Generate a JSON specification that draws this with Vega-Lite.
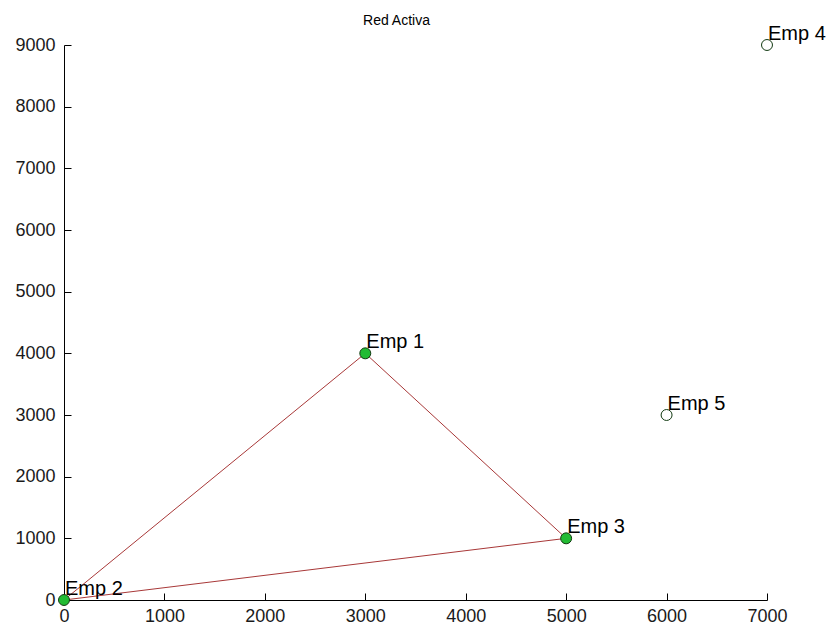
{
  "$schema": "https://vega.github.io/schema/vega-lite/v6.json",
  "width": 703,
  "height": 555,
  "autosize": {"type": "none"},
  "padding": {"left": 64, "top": 45, "right": 65, "bottom": 32},
  "background": "white",
  "title": {"text": "Red Activa", "fontSize": 14, "font": "Liberation Sans, Arial, sans-serif", "fontWeight": "normal", "color": "#000000", "dx": -19, "offset": 4, "dy": 8},
  "config": {"view": {"stroke": null}},
  "datasets": {
    "edges": [
      {"edge": "2-1", "x": 0, "y": 0},
      {"edge": "2-1", "x": 3000, "y": 4000},
      {"edge": "1-3", "x": 3000, "y": 4000},
      {"edge": "1-3", "x": 5000, "y": 1000},
      {"edge": "2-3", "x": 0, "y": 0},
      {"edge": "2-3", "x": 5000, "y": 1000}
    ],
    "nodes": [
      {"name": "Emp 1", "x": 3000, "y": 4000, "active": "yes"},
      {"name": "Emp 2", "x": 0, "y": 0, "active": "yes"},
      {"name": "Emp 3", "x": 5000, "y": 1000, "active": "yes"},
      {"name": "Emp 4", "x": 7000, "y": 9000, "active": "no"},
      {"name": "Emp 5", "x": 6000, "y": 3000, "active": "no"}
    ]
  },
  "layer": [
    {
      "data": {"name": "edges"},
      "mark": {"type": "line", "color": "#a83838", "strokeWidth": 1},
      "encoding": {
        "x": {"field": "x", "type": "quantitative", "scale": {"domain": [0, 7000], "nice": false, "zero": false},
          "axis": {"title": null, "grid": false, "values": [0,1000,2000,3000,4000,5000,6000,7000], "format": "d", "tickSize": -7, "labelPadding": 14, "domainColor": "#000", "tickColor": "#000", "labelColor": "#1a1a1a", "labelFont": "Liberation Sans, Arial, sans-serif", "labelFontSize": 18, "labelFlush": false}},
        "y": {"field": "y", "type": "quantitative", "scale": {"domain": [0, 9000], "nice": false, "zero": false},
          "axis": {"title": null, "grid": false, "values": [0,1000,2000,3000,4000,5000,6000,7000,8000,9000], "format": "d", "tickSize": -7, "labelPadding": 16, "domainColor": "#000", "tickColor": "#000", "labelColor": "#1a1a1a", "labelFont": "Liberation Sans, Arial, sans-serif", "labelFontSize": 18, "labelFlush": false}},
        "detail": {"field": "edge", "type": "nominal"}
      }
    },
    {
      "data": {"name": "nodes"},
      "mark": {"type": "point", "shape": "circle", "size": 120, "strokeWidth": 1, "stroke": "#123a12", "opacity": 1},
      "encoding": {
        "x": {"field": "x", "type": "quantitative"},
        "y": {"field": "y", "type": "quantitative"},
        "fill": {"field": "active", "type": "nominal", "scale": {"domain": ["yes", "no"], "range": ["#22bb33", "#ffffff"]}, "legend": null}
      }
    },
    {
      "data": {"name": "nodes"},
      "mark": {"type": "text", "align": "left", "baseline": "alphabetic", "dx": 1, "dy": -5, "font": "Liberation Sans, Arial, sans-serif", "fontSize": 20, "color": "#000"},
      "encoding": {
        "x": {"field": "x", "type": "quantitative"},
        "y": {"field": "y", "type": "quantitative"},
        "text": {"field": "name"}
      }
    }
  ]
}
